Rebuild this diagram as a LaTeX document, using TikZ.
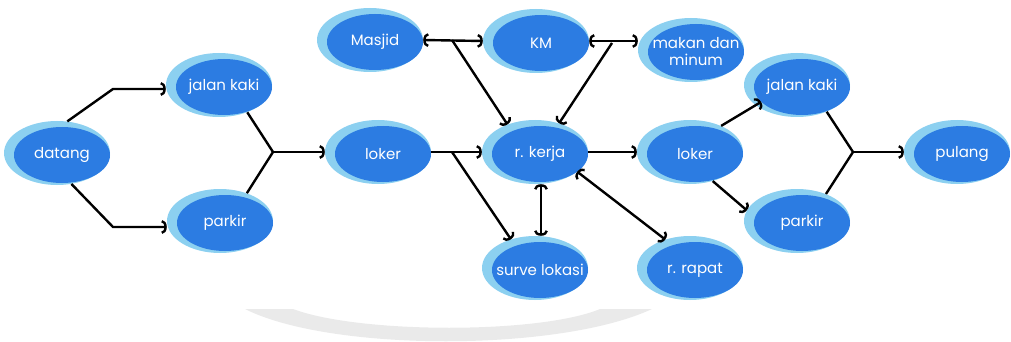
\documentclass[tikz,border=0pt]{standalone}
\usepackage{fontspec}
\setmainfont{Poppins}
\usetikzlibrary{shapes.geometric,arrows.meta}

\definecolor{ringblue}{RGB}{140,208,240}
\definecolor{blobblue}{RGB}{44,124,226}
\definecolor{swoosh}{RGB}{234,234,234}

\tikzset{
  ring/.style={ellipse,fill=ringblue,minimum width=106pt,minimum height=64pt,inner sep=0pt},
  blob/.style={ellipse,fill=blobblue,minimum width=96pt,minimum height=56pt,inner xsep=-14pt,inner ysep=0pt,
               text=white,font=\fontsize{15}{17}\selectfont,align=center},
  arr/.style={line width=2.4pt,-{Arc Barb[length=5pt,width=14pt,line width=2.4pt]}},
  dblarr/.style={line width=2.4pt,{Arc Barb[length=5pt,width=14pt,line width=2.4pt]}-{Arc Barb[length=5pt,width=14pt,line width=2.4pt]}},
}

\begin{document}
\begin{tikzpicture}[x=1pt,y=-1pt]
  \useasboundingbox (0,0) rectangle (1011,342);

  % grey swoosh under the chart
  \fill[swoosh] (245,309) .. controls (330,352) and (560,352) .. (652,309)
     -- (600,309) .. controls (540,334) and (360,334) .. (293,309) -- cycle;

  % places: light ring with the dark blob on top
  \foreach \n/\p/\t in {dat/{57,153}/datang, jk1/{219,85}/jalan kaki, pk1/{220,221}/parkir,
      lk1/{378,152}/loker, msj/{370,40}/Masjid, km/{536,41}/KM, mkn/{691,50}/{makan dan\\minum},
      rk/{535,152}/r. kerja, sv/{535,268}/surve lokasi, lk2/{690,152}/loker, rr/{690,268}/r. rapat,
      jk2/{797,85}/jalan kaki, pk2/{797,221}/parkir, pl/{957,152}/pulang}
  {
    \node[ring] (\n) at (\p) {};
    \node[blob,xshift=5pt,yshift=-2pt] (\n i) at (\p) {\t};
  }

  % corners and branch points
  \coordinate (c1) at (113,89);
  \coordinate (c2) at (113,227);
  \coordinate (m1) at (273,152);
  \coordinate (b1) at (452,152);
  \coordinate (b2) at (452,40);
  \coordinate (b3) at (612,43);
  \coordinate (m2) at (853,152);

  % arriving
  \draw[arr] (dat.72) -- (c1) -- (c1 -| jk1.west);
  \draw[arr] (dat.-65) -- (c2) -- (c2 -| pk1.west);
  \draw[line width=2.4pt] (jk1.-44) -- (m1) -- (pk1.46);
  \draw[arr] (m1) -- (lk1);

  % around the work room
  \draw[arr] (lk1) -- (rk);
  \draw[arr] (b1) -- (sv.130);
  \draw[dblarr] (msj.east) -- (km.west);
  \draw[arr] (b2) -- (rk.135);
  \draw[dblarr] (km.east) -- (km.east -| mkn.west);
  \draw[arr] (b3) -- (rk.50);
  \draw[dblarr] ([xshift=6pt]rk.south) -- ([xshift=6pt]sv.north);
  \draw[dblarr] (rk.-25) -- (rr.131);
  \draw[arr] (rk) -- (lk2);

  % leaving
  \draw[arr] (lk2.40) -- (jk2i.200);
  \draw[arr] (lk2.-52) -- (pk2.168);
  \draw[line width=2.4pt] (jk2.-42) -- (m2) -- (pk2.43);
  \draw[arr] (m2) -- (pl);
\end{tikzpicture}
\end{document}
